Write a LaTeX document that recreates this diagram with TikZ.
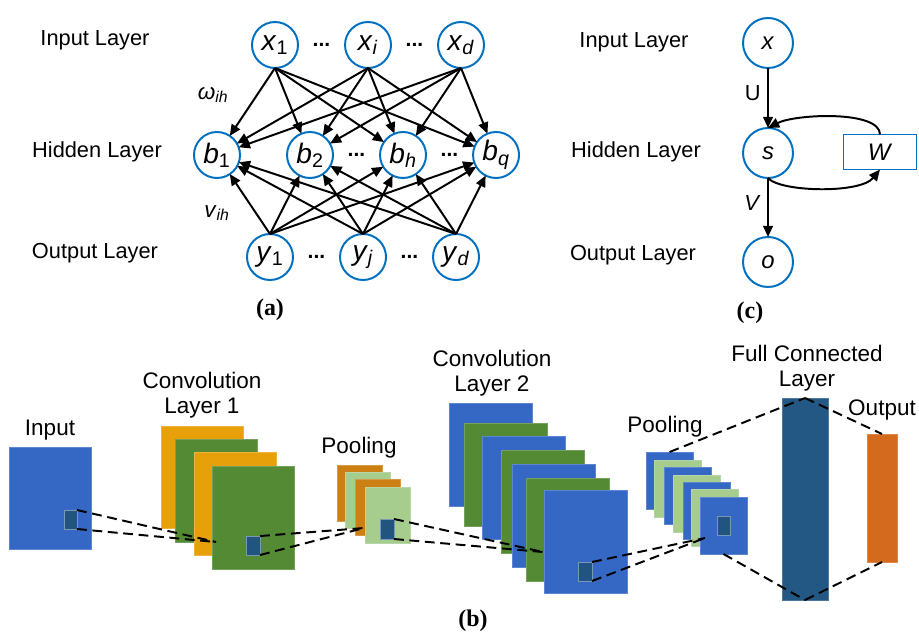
\documentclass[tikz,border=0pt]{standalone}
\usepackage{fontspec}
\setmainfont{Liberation Sans}
\newfontfamily\panelfont{Liberation Serif}
\usetikzlibrary{positioning,arrows.meta,calc}
\newcommand{\unitpx}{0.025cm}
\newcommand{\nsub}[2]{\textit{#1}\textsubscript{#2}}
\definecolor{neuronblue}{RGB}{0,112,192}
\definecolor{mapblue}{RGB}{52,104,196}
\definecolor{mapgreen}{RGB}{84,138,52}
\definecolor{maporange}{RGB}{232,160,10}
\definecolor{poolorange}{RGB}{204,128,20}
\definecolor{poolgreen}{RGB}{166,204,142}
\definecolor{patchblue}{RGB}{34,84,128}
\definecolor{fcblue}{RGB}{36,88,132}
\definecolor{outorange}{RGB}{212,106,30}

\begin{document}
\begin{tikzpicture}[x=\unitpx, y=-\unitpx, node distance=1.175cm, outer sep=0pt]
\tikzstyle{neuron}=[
                  circle,
                  draw=neuronblue,
                  line width=1.4pt,
                  minimum size=46*\unitpx,
                  inner sep=0pt,
                  font=\fontsize{20}{24}\selectfont]

\tikzstyle{rnode}=[
                  neuron,
                  minimum size=50*\unitpx,
                  font=\fontsize{17}{20}\selectfont]

\tikzstyle{wbox}=[
                  rectangle,
                  draw=neuronblue,
                  line width=1.4pt,
                  minimum width=73*\unitpx,
                  minimum height=35*\unitpx,
                  font=\fontsize{17}{20}\selectfont]

\tikzstyle{layer}=[font=\fontsize{15.5}{18}\selectfont]
\tikzstyle{dots}=[font=\bfseries\fontsize{15}{16}\selectfont]
\tikzstyle{weight}=[font=\fontsize{16}{18}\selectfont]
\tikzstyle{cnnlabel}=[align=center, font=\fontsize{16}{17.8}\selectfont]
\tikzstyle{panel}=[font=\panelfont\bfseries\fontsize{17}{20}\selectfont]
\tikzstyle{link}=[-{Triangle[length=8pt,width=7pt]}, line width=1.4pt]
\tikzstyle{conn}=[dash pattern=on 7pt off 4pt, line width=1.4pt]
\tikzstyle{patch}=[
                  rectangle,
                  fill=patchblue,
                  draw=patchblue!60!white,
                  line width=0.5pt,
                  inner sep=0pt,
                  anchor=north west]
\tikzset{map/.style={
                  rectangle,
                  fill=#1,
                  draw=#1!80!white,
                  line width=0.5pt,
                  inner sep=0pt,
                  anchor=north west}}

\useasboundingbox (0,0) rectangle (919,634);

% (a) fully connected network
\node[layer] (ain)  at (95,40)  {Input Layer};
\node[layer] (ahid) at (97,152) {Hidden Layer};
\node[layer] (aout) at (95,253) {Output Layer};

\node[neuron] (x1) at (275,45)      {\nsub{x}{1}};
\node[neuron] (xi) [right = of x1]  {\nsub{x}{\textit{i}}};
\node[neuron] (xd) [right = of xi]  {\nsub{x}{\textit{d}}};

\node[neuron] (b1) at (217,155)     {\nsub{b}{1}};
\node[neuron] (b2) [right = of b1]  {\nsub{b}{2}};
\node[neuron] (bh) [right = of b2]  {\nsub{b}{\textit{h}}};
\node[neuron] (bq) [right = of bh]  {\nsub{b}{\textit{q}}};

\node[neuron] (y1) at (270,257)     {\nsub{y}{1}};
\node[neuron] (yj) [right = of y1]  {\nsub{y}{\textit{j}}};
\node[neuron] (yd) [right = of yj]  {\nsub{y}{\textit{d}}};

\node[dots] (dx1) at ($(x1)!0.5!(xi)$) {...};
\node[dots] (dx2) at ($(xi)!0.5!(xd)$) {...};
\node[dots] (db1) at ($(b2)!0.5!(bh)$) {...};
\node[dots] (db2) at ($(bh)!0.5!(bq)$) {...};
\node[dots] (dy1) at ($(y1)!0.5!(yj)$) {...};
\node[dots] (dy2) at ($(yj)!0.5!(yd)$) {...};

\foreach \src in {x1,xi,xd}
  \foreach \dst in {b1,b2,bh,bq}
    \draw[link] (\src.south) -- (\dst);
\foreach \src in {y1,yj,yd}
  \foreach \dst in {b1,b2,bh,bq}
    \draw[link] (\src.north) -- (\dst);

\node[weight] (wih) at (213,95)  {\nsub{ω}{\textit{ih}}};
\node[weight] (vih) at (217,213) {\nsub{v}{\textit{ih}}};

\node[panel] (capa) at (270,310) {(a)};

% (c) recurrent network
\node[layer] (cin)  at (634,42)  {Input Layer};
\node[layer] (chid) at (636,152) {Hidden Layer};
\node[layer] (cout) at (633,255) {Output Layer};

\node[rnode] (x) at (768,43)  {\textit{x}};
\node[rnode] (s) at (768,153) {\textit{s}};
\node[rnode] (o) at (768,262) {\textit{o}};
\node[wbox]  (w) at (880,152) {\textit{W}};

\draw[link] (x) -- (s) node[pos=0.42, left=2pt, layer] {U};
\draw[link] (s) -- (o) node[pos=0.42, left=2pt, layer] {\textit{V}};
\draw[link] (w.north) .. controls (880,110) and (795,114) .. (s.north);
\draw[link] (s.south) .. controls (780,192) and (860,194) .. (w.south);

\node[panel] (capc) at (750,313) {(c)};

% (b) convolutional network
\node[map=mapblue, minimum width=82*\unitpx, minimum height=102*\unitpx] (inp) at (9,447) {};
\node[patch, minimum width=13*\unitpx, minimum height=19*\unitpx] (inpatch) at (64,510) {};
\node[cnnlabel] (labinp) at (50,430) {Input};

\node[map=maporange, minimum width=82*\unitpx, minimum height=102*\unitpx] (c1m1) at (161,426) {};
\node[map=mapgreen,  minimum width=82*\unitpx, minimum height=103*\unitpx] (c1m2) at (175,439) {};
\node[map=maporange, minimum width=82*\unitpx, minimum height=103*\unitpx] (c1m3) at (194,452) {};
\node[map=mapgreen,  minimum width=82*\unitpx, minimum height=103*\unitpx] (c1m4) at (212,466) {};
\node[patch, minimum width=14*\unitpx, minimum height=19*\unitpx] (c1p) at (246,536) {};
\node[cnnlabel] (labc1) at (202,395) {Convolution\\Layer 1};

\node[map=poolorange, minimum width=45*\unitpx, minimum height=56*\unitpx] (p1m1) at (337,465) {};
\node[map=poolgreen,  minimum width=45*\unitpx, minimum height=56*\unitpx] (p1m2) at (345,472) {};
\node[map=poolorange, minimum width=45*\unitpx, minimum height=56*\unitpx] (p1m3) at (355,479) {};
\node[map=poolgreen,  minimum width=45*\unitpx, minimum height=56*\unitpx] (p1m4) at (365,487) {};
\node[patch, minimum width=14*\unitpx, minimum height=20*\unitpx] (p1p) at (380,519) {};
\node[cnnlabel] (labp1) at (359,448) {Pooling};

\foreach \i/\mx/\my/\mc in {1/449/403/mapblue, 2/464/423/mapgreen, 3/482/436/mapblue,
                            4/501/450/mapgreen, 5/512/464/mapblue, 6/526/478/mapgreen, 7/544/490/mapblue}
  \node[map=\mc, minimum width=83*\unitpx, minimum height=103*\unitpx] (c2m\i) at (\mx,\my) {};
\node[patch, minimum width=14*\unitpx, minimum height=19*\unitpx] (c2p) at (578,562) {};
\node[cnnlabel] (labc2) at (492,373) {Convolution\\Layer 2};

\foreach \i/\mx/\my/\mc in {1/646/452/mapblue, 2/654/460/poolgreen, 3/664/467/mapblue,
                            4/673/475/poolgreen, 5/683/482/mapblue, 6/691/489/poolgreen, 7/700/497/mapblue}
  \node[map=\mc, minimum width=47*\unitpx, minimum height=57*\unitpx] (p2m\i) at (\mx,\my) {};
\node[patch, minimum width=13*\unitpx, minimum height=19*\unitpx] (p2p) at (717,516) {};
\node[cnnlabel] (labp2) at (665,427) {Pooling};

\node[map=fcblue, minimum width=46*\unitpx, minimum height=202*\unitpx] (fc) at (782,398) {};
\node[cnnlabel] (labfc) at (807,368) {Full Connected\\Layer};

\node[map=outorange, minimum width=30*\unitpx, minimum height=128*\unitpx] (out) at (867,434) {};
\node[cnnlabel] (labout) at (882,410) {Output};

\coordinate (cv1) at (216,542);
\coordinate (cv2) at (364,528);
\coordinate (cv3) at (543,552);
\coordinate (cv4) at (705,538);

\draw[conn] (inpatch.north east) -- (cv1);
\draw[conn] (inpatch.south east) -- (cv1);
\draw[conn] (c1p.north east) -- (cv2);
\draw[conn] (c1p.south east) -- (cv2);
\draw[conn] (p1p.north east) -- (cv3);
\draw[conn] (p1p.south east) -- (cv3);
\draw[conn] (c2p.north east) -- (cv4);
\draw[conn] (c2p.south east) -- (cv4);
\draw[conn] (p2m1.north) -- (fc.north);
\draw[conn] (p2m7.south) -- (fc.south);
\draw[conn] (fc.north) -- (out.north);
\draw[conn] (fc.south) -- (out.south);

\node[panel] (capb) at (473,621) {(b)};

\end{tikzpicture}
\end{document}
